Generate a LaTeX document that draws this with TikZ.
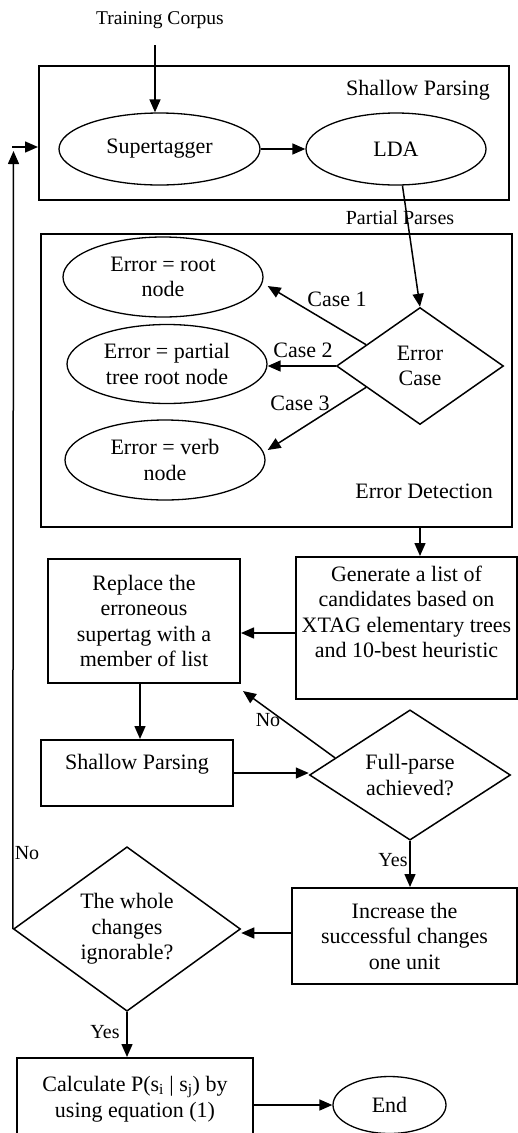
\documentclass[tikz,border=0pt]{standalone}
\usepackage{fontspec}
\setmainfont{Liberation Serif}
\usetikzlibrary{shapes.geometric,arrows.meta,calc}
\begin{document}
\begin{tikzpicture}[x=1pt,y=-1pt,
  txt/.style={font=\fontsize{22}{25.5}\selectfont, align=center, inner sep=0pt},
  sml/.style={font=\fontsize{20}{24}\selectfont, inner sep=0pt},
  tiny/.style={font=\fontsize{19.5}{23}\selectfont, inner sep=0pt},
  frame/.style={draw, line width=2pt, inner sep=0pt, txt},
  ell/.style={draw, ellipse, line width=1.3pt, inner sep=0pt, txt},
  dia/.style={draw, diamond, line width=1.5pt, inner sep=0pt, txt},
  arr/.style={line width=1.5pt, -{Triangle[length=13pt,width=11pt]}},
  ln/.style={line width=1.5pt}
]
\useasboundingbox (0,0) rectangle (518,1133);

% ---- top
\node[tiny] (tc) at (160,20) {Training Corpus};
\node[frame, minimum width=470pt, minimum height=134pt] (spbox) at (274,133) {};
\node[txt, anchor=east] (spl) at (490,90) {Shallow Parsing};
\node[ell, minimum width=201pt, minimum height=72pt] (sup) at (159.5,149) {Supertagger};
\node[ell, minimum width=180pt, minimum height=72pt] (lda) at (396,149) {LDA};
\coordinate (tcs) at (155,45);
\draw[arr] (tcs) -- (tcs |- sup.north);
\draw[arr] (sup.east) -- (lda.west);

% ---- error detection
\node[frame, minimum width=471pt, minimum height=293pt] (edbox) at (276.5,380.5) {};
\node[txt, anchor=east] (edl) at (493,491) {Error Detection};
\node[ell, minimum width=200pt, minimum height=80pt] (e1) at (163,277) {Error = root\\node};
\node[ell, minimum width=200pt, minimum height=79pt] (e2) at (167,364) {Error = partial\\tree root node};
\node[ell, minimum width=200pt, minimum height=80pt] (e3) at (165,460) {Error = verb\\node};
\node[dia, minimum width=167pt, minimum height=117pt] (ec) at (420,366) {Error\\Case};
\node[sml] (pp) at (400,218) {Partial Parses};
\draw[arr] (lda.-80) -- (ec.north);
\draw[arr] ($(ec.west)!0.36!(ec.north)$) -- ($(e1.east)+(4,9)$);
\draw[arr] (ec.west) -- (ec.west -| e2.east);
\draw[arr] ($(ec.west)!0.36!(ec.south)$) -- ($(e3.east)+(2,-10)$);
\node[txt] (c1) at (337,299) {Case 1};
\node[txt] (c2) at (303,350) {Case 2};
\node[txt] (c3) at (300,403) {Case 3};

% ---- loop
\node[frame, minimum width=221pt, minimum height=142pt] (gen) at (406.5,628) {};
\node[txt] (gent) at (406.5,612) {Generate a list of\\candidates based on\\XTAG elementary trees\\and 10-best heuristic};
\node[frame, minimum width=192pt, minimum height=124pt] (rep) at (144,621) {Replace the\\erroneous\\supertag with a\\member of list};
\node[frame, minimum width=192pt, minimum height=66pt] (sp2) at (137,773) {};
\node[txt] (sp2t) at (137,764) {Shallow Parsing};
\node[dia, minimum width=201pt, minimum height=119pt] (fp) at (410,775) {Full-parse\\achieved?};
\node[frame, minimum width=225pt, minimum height=96pt] (inc) at (404.5,936) {Increase the\\successful changes\\one unit};
\node[dia, minimum width=227pt, minimum height=160pt] (wh) at (127,929) {The whole\\changes\\ignorable?};
\node[frame, minimum width=236pt, minimum height=82pt] (calc) at (135,1099) {Calculate P(s\textsubscript{i} | s\textsubscript{j}) by\\using equation (1)};
\node[ell, minimum width=113pt, minimum height=57pt] (end) at (389.5,1105) {End};

\draw[arr] (edbox.south -| ec.south) -- (gen.north -| ec.south);
\draw[arr] ($(gen.west)+(0,5)$) -- ($(gen.west -| rep.east)+(0,5)$);
\draw[arr] ($(rep.south)+(-4,0)$) -- ($(rep.south |- sp2.north)+(-4,0)$);
\draw[arr] (sp2.east) -- (sp2.east -| fp.west);
\draw[arr] ($(fp.west)!0.26!(fp.north)$) -- ($(rep.south east)+(2,7)$);
\draw[arr] (fp.south) -- (fp.south |- inc.north);
\draw[arr] ($(inc.west)+(0,-3)$) -- ($(inc.west -| wh.east)+(0,-3)$);
\draw[arr] (wh.south) -- (wh.south |- calc.north);
\draw[arr] (calc.east |- end.west) -- (end.west);

% feedback
\coordinate (fbt) at (13.5,151);
\coordinate (fbh) at (12,147);
\draw[arr] (wh.west) -- (fbt);
\draw[arr] (fbh) -- (fbh -| spbox.west);

\node[sml] (no1) at (268,720) {No};
\node[sml] (yes1) at (393,860) {Yes};
\node[sml] (no2) at (27,853) {No};
\node[sml] (yes2) at (105,1032) {Yes};
\end{tikzpicture}
\end{document}
